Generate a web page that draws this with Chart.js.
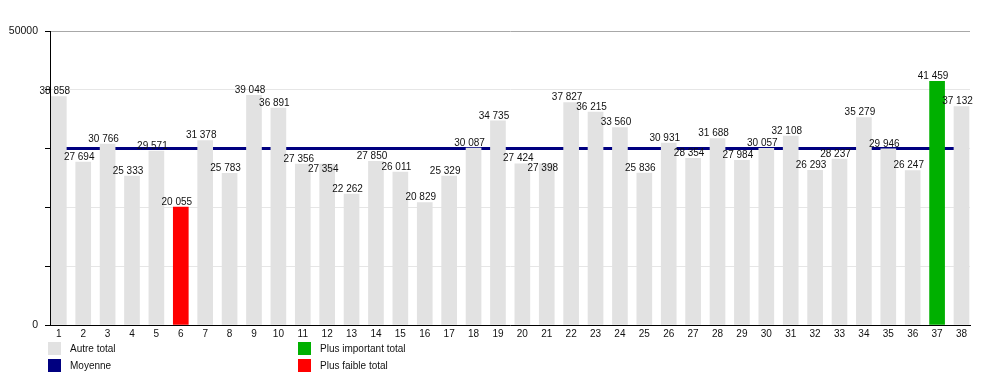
<!DOCTYPE html>
<html>
<head>
<meta charset="utf-8">
<script src="https://cdn.jsdelivr.net/npm/chart.js@4"></script>
<style>
  body { margin: 0; background: #fff; font-family: "Liberation Sans", Arial, sans-serif; }
  #wrap { position: relative; width: 1000px; height: 375px; }
  .sw { position: absolute; width: 13px; height: 13px; }
  .lb { position: absolute; font-size: 10px; color: #111; line-height: 13px; }
</style>
</head>
<body>
<div id="wrap">
  <canvas id="chart" width="1000" height="375"></canvas>
  <div class="sw" style="left:48px;top:342px;background:#e2e2e2"></div>
  <div class="lb" style="left:70px;top:342px">Autre total</div>
  <div class="sw" style="left:48px;top:359px;background:#000080"></div>
  <div class="lb" style="left:70px;top:359px">Moyenne</div>
  <div class="sw" style="left:298px;top:342px;background:#00b000"></div>
  <div class="lb" style="left:320px;top:342px">Plus important total</div>
  <div class="sw" style="left:298px;top:359px;background:#ff0000"></div>
  <div class="lb" style="left:320px;top:359px">Plus faible total</div>
</div>
<script>
const categories = [1, 2, 3, 4, 5, 6, 7, 8, 9, 10, 11, 12, 13, 14, 15, 16, 17, 18, 19,
  20, 21, 22, 23, 24, 25, 26, 27, 28, 29, 30, 31, 32, 33, 34, 35, 36, 37, 38];
const totals = [38858, 27694, 30766, 25333, 29571, 20055, 31378, 25783, 39048, 36891,
  27356, 27354, 22262, 27850, 26011, 20829, 25329, 30087, 34735, 27424,
  27398, 37827, 36215, 33560, 25836, 30931, 28354, 31688, 27984, 30057,
  32108, 26293, 28237, 35279, 29946, 26247, 41459, 37132];
const moyenne = 30031;
const yTickLabels = { 0: '0', 50000: '50000' };

const maxVal = Math.max(...totals);
const minVal = Math.min(...totals);
const barColors = totals.map(v => v === maxVal ? '#00b000' : (v === minVal ? '#ff0000' : '#e2e2e2'));

function fmt(v) {
  return String(v).replace(/\B(?=(\d{3})+(?!\d))/g, ' ');
}

// value labels above bars, pushed down a bit when they would hit the previous one
const valueLabels = {
  id: 'valueLabels',
  afterDatasetsDraw(chart) {
    const meta = chart.getDatasetMeta(0);
    const ctx = chart.ctx;
    ctx.save();
    ctx.font = '10px "Liberation Sans", Arial, sans-serif';
    ctx.fillStyle = '#111';
    ctx.textAlign = 'center';
    ctx.textBaseline = 'middle';
    let prevY = -100;
    meta.data.forEach((bar, i) => {
      let y = bar.y - 5;
      if (Math.abs(y - prevY) < 10) y = prevY + 10;
      ctx.fillText(fmt(totals[i]), bar.x - 4, y);
      prevY = y;
    });
    ctx.restore();
  }
};

new Chart(document.getElementById('chart'), {
  data: {
    datasets: [{
      type: 'bar',
      data: categories.map((c, i) => ({ x: c, y: totals[i] })),
      backgroundColor: barColors,
      barThickness: 15,
      order: 1
    }, {
      type: 'line',
      data: categories.map(c => ({ x: c, y: moyenne })),
      borderColor: '#000080',
      borderWidth: 3,
      pointRadius: 0,
      order: 2
    }]
  },
  options: {
    responsive: false,
    animation: false,
    layout: { padding: { top: 31, right: 30, bottom: 30, left: 0 } },
    plugins: { legend: { display: false }, tooltip: { enabled: false } },
    scales: {
      x: {
        type: 'linear',
        offset: false,
        min: 0.639,
        max: 38.349,
        afterFit: s => { s.height = 20; },
        grid: { display: false, drawTicks: false, offset: false },
        border: { display: true, color: '#000', width: 1 },
        afterBuildTicks: s => { s.ticks = categories.map(c => ({ value: c })); },
        ticks: {
          padding: 3,
          autoSkip: false,
          maxRotation: 0,
          color: '#111',
          font: { family: '"Liberation Sans", Arial, sans-serif', size: 10 },
          callback: v => String(v)
        }
      },
      y: {
        min: 0,
        max: 50000,
        afterFit: s => { s.width = 50; },
        grid: {
          color: c => c.tick && c.tick.value === 50000 ? '#a8a8a8' : '#e6e6e6',
          tickColor: '#000',
          tickLength: 5
        },
        border: { display: true, color: '#000', width: 1 },
        ticks: {
          stepSize: 10000,
          padding: 7,
          color: '#111',
          font: { family: '"Liberation Sans", Arial, sans-serif', size: 10.5 },
          callback: v => yTickLabels[v] !== undefined ? yTickLabels[v] : ''
        }
      }
    }
  },
  plugins: [valueLabels]
});
</script>
</body>
</html>
